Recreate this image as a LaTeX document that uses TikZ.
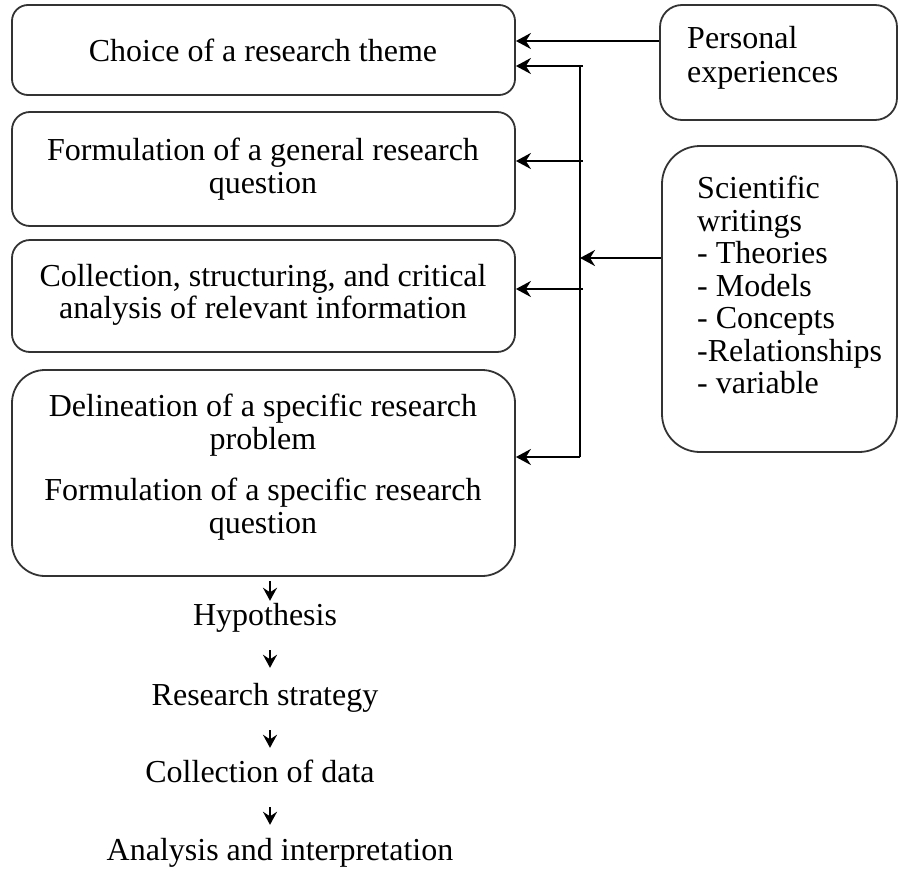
\documentclass[tikz,border=0pt]{standalone}
\usepackage{fontspec}
\setmainfont{Liberation Serif}
\usetikzlibrary{arrows.meta}
\begin{document}
\begin{tikzpicture}[x=1pt,y=-1pt,
  every node/.style={font=\fontsize{32}{32.5}\selectfont, inner sep=0pt},
  box/.style={draw=black!80, line width=1.8pt},
  txt/.style={align=center},
  ltxt/.style={align=left, anchor=west},
  btxt/.style={anchor=base, text height=22pt, text depth=7pt},
  arr/.style={line width=2.2pt, -{Stealth[length=15pt,width=16pt,inset=5pt]}},
  darr/.style={line width=2.2pt, -{Stealth[length=13pt,width=14pt,inset=4.5pt]}},
  ln/.style={line width=2.2pt}
]
\useasboundingbox (0,0) rectangle (899,870);

% left boxes
\node[box, rounded corners=16pt, minimum width=503pt, minimum height=90pt] (b1) at (263.5,50) {};
\node[box, rounded corners=18pt, minimum width=503pt, minimum height=114pt] (b2) at (263.5,169) {};
\node[box, rounded corners=18pt, minimum width=503pt, minimum height=112pt] (b3) at (263.5,296) {};
\node[box, rounded corners=33pt, minimum width=503pt, minimum height=206pt] (b4) at (263.5,473) {};

\node[txt] (t1) at (263,50) {Choice of a research theme};
\node[txt] (t2) at (263,169) {Formulation of a general research\\question};
\node[txt] (t3) at (263,295) {Collection, structuring, and critical\\analysis of relevant information};
\node[txt] (t4) at (263,467) {Delineation of a specific research\\problem\\[19pt]Formulation of a specific research\\question};

% right boxes
\node[box, rounded corners=22pt, minimum width=237pt, minimum height=115pt] (pe) at (778.5,62.5) {};
\node[box, rounded corners=38pt, minimum width=235pt, minimum height=306pt] (sw) at (779.5,299) {};
\node[ltxt] (tpe) at (687,58) {Personal\\[1pt]experiences};
\node[ltxt] (tsw) at (697,285) {Scientific\\writings\\- Theories\\- Models\\- Concepts\\-Relationships\\- variable};

% bottom sequence
\node[btxt] (hyp) at (265,625) {Hypothesis};
\node[btxt] (rs) at (265,705) {Research strategy};
\node[btxt] (cod) at (260,782) {Collection of data};
\node[btxt] (ai) at (280,860) {Analysis and interpretation};

% connectors on the right
\coordinate (trunkTop) at (580,66);
\coordinate (trunkBot) at (580,457);
\coordinate (j1) at (583,66);
\coordinate (j2) at (583,161);
\coordinate (j3) at (583,289);
\draw[ln] (trunkTop) -- (trunkBot);
\draw[arr] ([yshift=21.5pt]pe.west) -- ([yshift=21.5pt]pe.west -| b1.east);
\draw[arr] (j1) -- (j1 -| b1.east);
\draw[arr] (j2) -- (j2 -| b2.east);
\draw[arr] (j3) -- (j3 -| b3.east);
\draw[arr] (trunkBot) -- (trunkBot -| b4.east);
\draw[arr] ([yshift=41pt]sw.west) -- ([yshift=41pt]sw.west -| trunkTop);

% downward arrows
\coordinate (col) at (270,0);
\draw[darr, shorten <=4pt, shorten >=2pt] (b4.south -| col) -- (hyp.north -| col);
\draw[darr, shorten <=18pt, shorten >=15pt] (hyp.south -| col) -- (rs.north -| col);
\draw[darr, shorten <=18pt, shorten >=12pt] (rs.south -| col) -- (cod.north -| col);
\draw[darr, shorten <=18pt, shorten >=13pt] (cod.south -| col) -- (ai.north -| col);
\end{tikzpicture}
\end{document}
